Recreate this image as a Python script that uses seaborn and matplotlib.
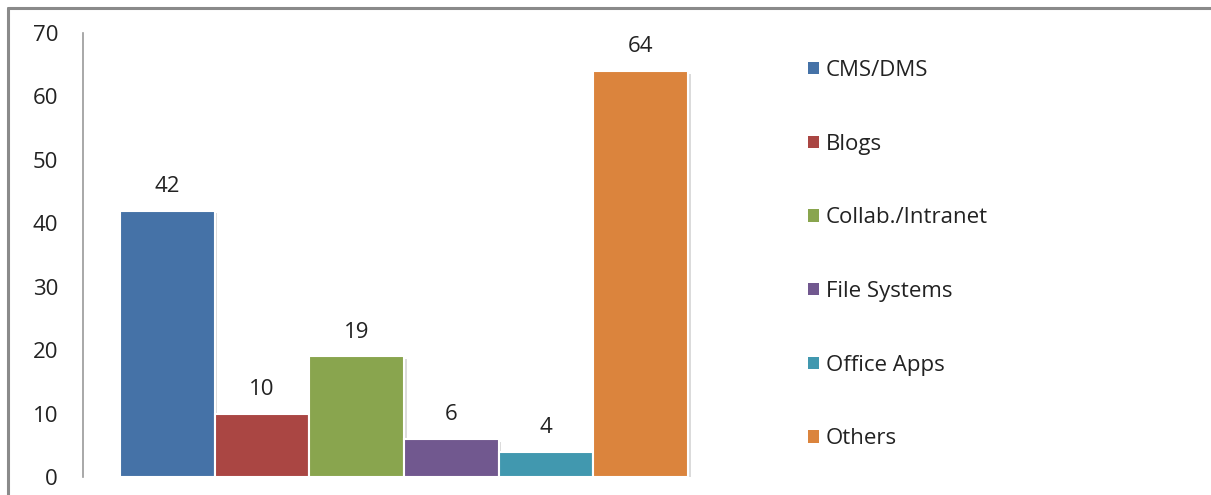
import matplotlib
matplotlib.use("Agg")
import matplotlib.pyplot as plt
import matplotlib.patheffects as pe
from matplotlib.patches import Patch
from matplotlib.lines import Line2D
import seaborn as sns
import pandas as pd

# data
sources = ["CMS/DMS", "Blogs", "Collab./Intranet", "File Systems", "Office Apps", "Others"]
counts = [42, 10, 19, 6, 4, 64]
colours = ["#4572A7", "#AA4643", "#89A54E", "#71588F", "#4198AF", "#DB843D"]
yticks = [0, 10, 20, 30, 40, 50, 60, 70]

sns.set_style("white")
plt.rcParams["font.family"] = ["Open Sans", "DejaVu Sans"]

df = pd.DataFrame({"source": sources, "count": counts})

fig = plt.figure(figsize=(12.11, 4.95), dpi=100)
ax = fig.add_axes([83 / 1211, 1 - 477 / 495, (725 - 83) / 1211, (477 - 33) / 495])

sns.barplot(data=df, x="source", y="count", hue="source", palette=colours, saturation=1,
            width=1.0, edgecolor="white", linewidth=1.5, legend=False, ax=ax)

for bar in ax.patches:
    bar.set_path_effects([pe.SimplePatchShadow(offset=(2, -2), shadow_rgbFace="#999999", alpha=0.35),
                          pe.Normal()])

for c in ax.containers:
    ax.bar_label(c, padding=10, fontsize=16, color="#222222")

ax.set_xlim(-0.5 - 0.39, len(sources) - 0.5 + 0.39)
ax.set_ylim(0, 70)
ax.set_yticks(yticks)
ax.set_xticks([])
ax.set_xlabel("")
ax.set_ylabel("")
ax.tick_params(axis="y", length=0, pad=18, labelsize=16, labelcolor="#222222")
for side in ["top", "right", "bottom"]:
    ax.spines[side].set_visible(False)
ax.spines["left"].set_color("#9a9a9a")
ax.spines["left"].set_linewidth(1.2)

handles = [Patch(facecolor=col, edgecolor="none") for col in colours]
fig.legend(handles, sources, loc="upper left", bbox_to_anchor=(797 / 1211, 1 - 49 / 495),
           frameon=False, fontsize=16, handlelength=0.47, handleheight=0.47,
           handletextpad=0.33, labelspacing=2.37, borderpad=0, labelcolor="#222222")

# outer frame lines (top and left)
fig.add_artist(Line2D([8 / 1211, 1], [1 - 8 / 495, 1 - 8 / 495], color="#8a8a8a", lw=2.2,
                      transform=fig.transFigure))
fig.add_artist(Line2D([8 / 1211, 8 / 1211], [0, 1 - 8 / 495], color="#8a8a8a", lw=2.2,
                      transform=fig.transFigure))

fig.savefig("out.png", dpi=100)
